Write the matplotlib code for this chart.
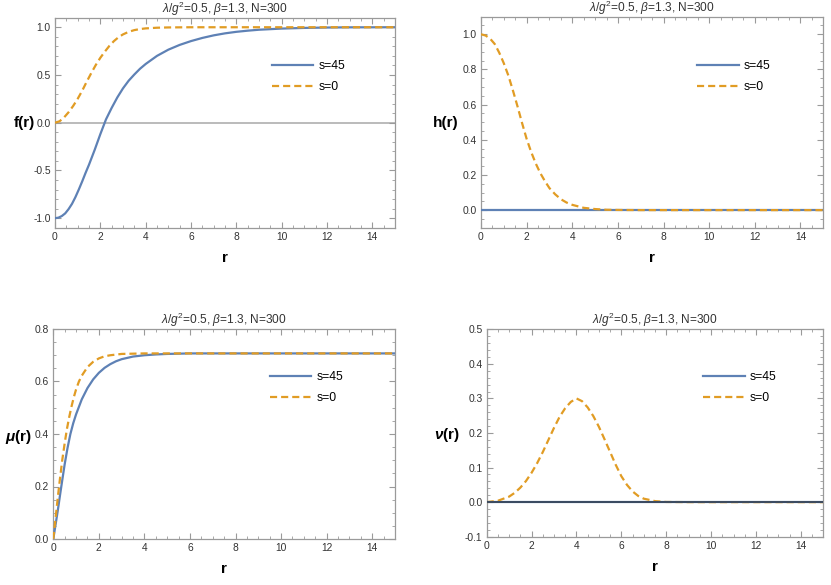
import numpy as np
import matplotlib
matplotlib.use("Agg")
import matplotlib.pyplot as plt
from matplotlib.ticker import MultipleLocator, FormatStrFormatter

plt.rcParams['font.family'] = ['Liberation Sans', 'DejaVu Sans']
plt.rcParams['mathtext.fontset'] = 'custom'
plt.rcParams['mathtext.rm'] = 'Liberation Sans'
plt.rcParams['mathtext.it'] = 'Liberation Sans:italic'
plt.rcParams['mathtext.bf'] = 'Liberation Sans:italic:bold'

# values
r_f45 = [0, 0.15, 0.3, 0.45, 0.6, 0.75, 0.9, 1.05, 1.2, 1.35, 1.5, 1.75, 2.0, 2.25,
         2.5, 2.75, 3.0, 3.25, 3.5, 3.75, 4.0, 4.5, 5.0, 5.5, 6.0, 6.5, 7.0, 7.5,
         8.0, 8.5, 9.0, 10, 11, 12, 13, 15]
f_45 = [-1.0, -0.995, -0.978, -0.95, -0.905, -0.85, -0.78, -0.70, -0.615, -0.525,
        -0.44, -0.285, -0.12, 0.035, 0.155, 0.265, 0.36, 0.44, 0.505, 0.565, 0.615,
        0.70, 0.765, 0.815, 0.855, 0.888, 0.915, 0.936, 0.952, 0.964, 0.974, 0.986,
        0.993, 0.997, 0.999, 1.0]
r_f0 = [0, 0.2, 0.4, 0.6, 0.8, 1.0, 1.2, 1.4, 1.6, 1.8, 2.0, 2.2, 2.4, 2.6, 2.8,
        3.0, 3.25, 3.5, 3.75, 4.0, 4.5, 5.0, 6.0, 15]
f_0 = [0, 0.015, 0.055, 0.11, 0.175, 0.25, 0.335, 0.43, 0.52, 0.605, 0.68, 0.745,
       0.805, 0.855, 0.895, 0.925, 0.952, 0.97, 0.981, 0.988, 0.995, 0.998, 1.0, 1.0]

r_h = [0, 0.2, 0.4, 0.6, 0.8, 1.0, 1.2, 1.4, 1.6, 1.8, 2.0, 2.2, 2.4, 2.6, 2.8,
       3.0, 3.25, 3.5, 3.75, 4.0, 4.5, 5.0, 5.5, 6.0, 7.0, 15]
h_0 = [1.0, 0.993, 0.975, 0.945, 0.895, 0.835, 0.765, 0.68, 0.59, 0.495, 0.405,
       0.33, 0.265, 0.21, 0.165, 0.125, 0.09, 0.062, 0.043, 0.03, 0.013, 0.006,
       0.002, 0.001, 0.0, 0.0]
h_45 = [0.0] * len(r_h)

r_mu45 = [0, 0.1, 0.2, 0.3, 0.4, 0.5, 0.625, 0.75, 0.875, 1.0, 1.25, 1.5, 1.75,
          2.0, 2.25, 2.5, 2.75, 3.0, 3.5, 4.0, 4.5, 5.0, 6.0, 15]
mu_45 = [0, 0.055, 0.11, 0.17, 0.228, 0.285, 0.347, 0.40, 0.441, 0.475, 0.532,
         0.575, 0.608, 0.633, 0.652, 0.666, 0.677, 0.685, 0.695, 0.70, 0.703, 0.705,
         0.707, 0.707]
r_mu0 = [0, 0.1, 0.2, 0.3, 0.4, 0.5, 0.6, 0.7, 0.8, 0.9, 1.0, 1.125, 1.25, 1.5,
         1.75, 2.0, 2.25, 2.5, 3.0, 3.5, 4.0, 15]
mu_0 = [0, 0.08, 0.16, 0.235, 0.305, 0.365, 0.42, 0.465, 0.505, 0.54, 0.57, 0.60,
        0.622, 0.655, 0.675, 0.688, 0.696, 0.70, 0.705, 0.706, 0.707, 0.707]

r_v = [0, 0.5, 1.0, 1.25, 1.5, 1.75, 2.0, 2.25, 2.5, 2.75, 3.0, 3.25, 3.5, 3.75,
       4.0, 4.25, 4.5, 4.75, 5.0, 5.25, 5.5, 5.75, 6.0, 6.25, 6.5, 6.75, 7.0, 7.5,
       8.0, 9.0, 15]
v_0 = [0, 0.004, 0.016, 0.027, 0.042, 0.061, 0.085, 0.113, 0.145, 0.18, 0.215,
       0.247, 0.272, 0.29, 0.30, 0.292, 0.274, 0.249, 0.218, 0.182, 0.145, 0.108,
       0.075, 0.05, 0.031, 0.018, 0.01, 0.003, 0.0005, 0.0, 0.0]
v_45 = [0.0] * len(r_v)

title = r'$\lambda/g^2$=0.5, $\beta$=1.3, N=300'
blue = '#5E81B5'
orange = '#E19C24'
frame_col = '#9a9a9a'

fig = plt.figure(figsize=(8.31, 5.85), dpi=100)
W, H = 831, 585

def make_ax(l, r, t, b):
    return fig.add_axes([l / W, 1 - b / H, (r - l) / W, (b - t) / H])

panels = [
    # axes box, ylim, major, minor, ylabel, ylabel pos, legend anchor, data
    ((55, 395, 17.7, 227.7), (-1.1, 1.1), 0.5, 0.1, 'f(r)', (24, 123), (0.638, 0.72),
     (r_f45, f_45), (r_f0, f_0)),
    ((481, 823.3, 16.7, 227.7), (-0.1, 1.1), 0.2, 0.05, 'h(r)', (446, 123), (0.631, 0.716),
     (r_h, h_45), (r_h, h_0)),
    ((53.3, 395, 329, 539), (0, 0.8), 0.2, 0.05, r'$\mathbf{\mu}$(r)', (18, 437), (0.634, 0.721),
     (r_mu45, mu_45), (r_mu0, mu_0)),
    ((486.7, 823.3, 329.3, 536.7), (-0.1, 0.5), 0.1, 0.02, r'$\mathbf{\nu}$(r)', (447, 435), (0.643, 0.719),
     (r_v, v_45), (r_v, v_0)),
]

for i, (box, ylim, maj, mnr, ylab, ypos, leg, d45, d0) in enumerate(panels):
    ax = make_ax(*box)
    ax.set_xlim(0, 15)
    ax.set_ylim(*ylim)
    if ylim[0] < 0:
        ax.axhline(0, color='#a8a8a8', lw=1.1, zorder=1)
    l1, = ax.plot(d45[0], d45[1], color=blue, lw=1.6, zorder=3, label='s=45')
    l2, = ax.plot(d0[0], d0[1], color=orange, lw=1.6, ls=(0, (3.2, 1.8)), zorder=4, label='s=0')
    if i == 3:
        ax.axhline(0, color='#3b4a60', lw=1.4, zorder=5)

    ax.xaxis.set_minor_locator(MultipleLocator(0.5))
    ax.yaxis.set_major_locator(MultipleLocator(maj))
    ax.yaxis.set_minor_locator(MultipleLocator(mnr))
    ax.yaxis.set_major_formatter(FormatStrFormatter('%.1f'))
    ax.set_xticks([0, 2, 4, 6, 8, 10, 12, 14])
    ax.tick_params(which='both', direction='in', top=True, right=True,
                   color=frame_col, labelcolor='#333333', labelsize=7.4, pad=3)
    ax.tick_params(which='major', length=4.5, width=0.8)
    ax.tick_params(which='minor', length=2.5, width=0.6)
    for s in ax.spines.values():
        s.set_color(frame_col)
        s.set_linewidth(0.9)

    ax.set_title(title, fontsize=8.6, color='#333333', pad=3)
    ax.set_xlabel('r', fontsize=11, fontweight='bold', labelpad=6.5)
    fig.text(ypos[0] / W, 1 - ypos[1] / H, ylab, fontsize=11, fontweight='bold',
             ha='center', va='center')

    ax.legend(handles=[l1, l2], loc='center left', bbox_to_anchor=leg, frameon=False,
              fontsize=8.8, handlelength=3.4, handletextpad=0.4, labelspacing=0.75,
              borderpad=0, borderaxespad=0)

fig.savefig('out.png', dpi=100, facecolor='white')
